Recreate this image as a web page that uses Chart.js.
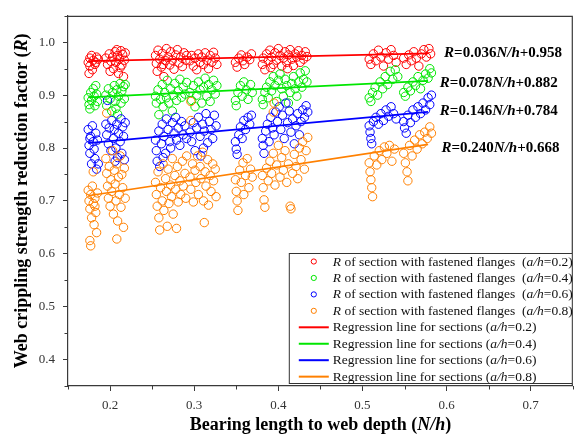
<!DOCTYPE html>
<html>
<head>
<meta charset="utf-8">
<script src="https://cdn.jsdelivr.net/npm/chart.js@4"></script>
<style>
  html, body { margin: 0; padding: 0; background: #fff; }
  canvas { display: block; }
</style>
</head>
<body>
<canvas id="chart" width="578" height="437"></canvas>
<script>
// Web crippling strength reduction factor R against bearing length ratio N/h,
// for sections with fastened flanges at four hole ratios a/h.

const ratios = ['0.2', '0.4', '0.6', '0.8'];

// [N/h, R] for a/h = 0.2
const pts02 = [
  [0.174,0.962],[0.176,0.970],[0.178,0.975],[0.180,0.966],[0.182,0.958],[0.184,0.972],[0.176,0.955],[0.179,0.948],[0.183,0.962],[0.186,0.968],[0.175,0.941],
  [0.195,0.970],[0.197,0.958],[0.199,0.978],[0.201,0.964],[0.203,0.972],[0.204,0.950],[0.206,0.982],[0.207,0.962],[0.209,0.975],[0.210,0.941],
  [0.211,0.968],[0.213,0.984],[0.214,0.957],[0.215,0.977],[0.216,0.935],[0.217,0.966],[0.218,0.980],[0.200,0.945],[0.212,0.952],[0.208,0.986],
  [0.254,0.975],[0.255,0.960],[0.256,0.945],[0.257,0.985],[0.259,0.968],[0.261,0.953],[0.262,0.979],[0.264,0.935],[0.266,0.965],[0.267,0.988],
  [0.269,0.972],[0.271,0.957],[0.272,0.982],[0.274,0.966],[0.276,0.949],[0.278,0.976],[0.280,0.986],[0.282,0.961],[0.284,0.972],[0.286,0.954],
  [0.288,0.980],[0.290,0.966],[0.291,0.975],[0.263,0.958],
  [0.295,0.965],[0.297,0.975],[0.299,0.955],[0.301,0.970],[0.303,0.948],[0.305,0.978],[0.307,0.962],[0.309,0.972],[0.311,0.958],[0.313,0.980],
  [0.315,0.966],[0.317,0.950],[0.319,0.975],[0.321,0.962],[0.323,0.981],[0.325,0.970],[0.327,0.958],
  [0.349,0.962],[0.351,0.953],[0.353,0.970],[0.356,0.976],[0.358,0.965],[0.360,0.958],[0.363,0.972],[0.366,0.967],[0.368,0.978],
  [0.381,0.958],[0.382,0.970],[0.384,0.948],[0.386,0.978],[0.388,0.965],[0.390,0.985],[0.392,0.972],[0.394,0.958],[0.396,0.980],[0.398,0.966],
  [0.400,0.988],[0.402,0.975],[0.404,0.955],[0.406,0.970],[0.408,0.982],[0.410,0.962],[0.412,0.976],[0.414,0.986],[0.416,0.968],[0.418,0.956],
  [0.420,0.978],[0.422,0.972],[0.424,0.984],[0.426,0.962],[0.428,0.975],[0.430,0.968],[0.432,0.982],[0.434,0.973],[0.391,0.952],[0.411,0.950],
  [0.508,0.968],[0.510,0.958],[0.513,0.978],[0.516,0.965],[0.519,0.985],[0.522,0.972],[0.525,0.955],[0.528,0.980],[0.531,0.968],[0.534,0.986],
  [0.537,0.975],[0.540,0.962],
  [0.549,0.970],[0.552,0.958],[0.555,0.976],[0.558,0.965],[0.561,0.982],[0.564,0.970],[0.567,0.955],[0.570,0.978],[0.573,0.986],[0.576,0.972],
  [0.579,0.988],[0.581,0.978]
];

// [N/h, R] for a/h = 0.4
const pts04 = [
  [0.174,0.895],[0.175,0.882],[0.176,0.874],[0.177,0.905],[0.178,0.890],[0.180,0.912],[0.181,0.898],[0.182,0.880],[0.183,0.918],[0.184,0.902],[0.185,0.888],
  [0.195,0.900],[0.196,0.880],[0.198,0.912],[0.200,0.893],[0.202,0.870],[0.203,0.905],[0.205,0.918],[0.206,0.888],[0.208,0.910],[0.209,0.864],
  [0.210,0.898],[0.212,0.922],[0.213,0.885],[0.214,0.908],[0.216,0.916],[0.217,0.893],[0.218,0.920],[0.207,0.875],
  [0.254,0.898],[0.255,0.885],[0.257,0.910],[0.258,0.863],[0.260,0.892],[0.262,0.920],[0.263,0.878],[0.265,0.905],[0.267,0.895],[0.268,0.928],
  [0.270,0.885],[0.272,0.912],[0.274,0.870],[0.275,0.900],[0.277,0.922],[0.279,0.890],[0.281,0.908],[0.283,0.930],[0.285,0.896],[0.287,0.915],
  [0.289,0.902],[0.291,0.924],
  [0.295,0.905],[0.297,0.890],[0.299,0.918],[0.301,0.878],[0.303,0.900],[0.305,0.925],[0.307,0.910],[0.309,0.885],[0.311,0.915],[0.313,0.932],
  [0.315,0.898],[0.317,0.920],[0.319,0.888],[0.321,0.910],[0.323,0.928],[0.325,0.902],[0.327,0.918],
  [0.349,0.890],[0.350,0.880],[0.352,0.905],[0.355,0.918],[0.357,0.898],[0.359,0.925],[0.362,0.910],[0.364,0.892],[0.367,0.920],[0.369,0.905],
  [0.381,0.892],[0.382,0.882],[0.384,0.905],[0.386,0.915],[0.388,0.895],[0.390,0.925],[0.392,0.908],[0.394,0.935],[0.396,0.918],[0.398,0.888],
  [0.400,0.928],[0.402,0.940],[0.404,0.912],[0.406,0.898],[0.408,0.930],[0.410,0.918],[0.412,0.885],[0.414,0.905],[0.416,0.922],[0.418,0.935],
  [0.420,0.912],[0.422,0.898],[0.424,0.925],[0.426,0.942],[0.428,0.915],[0.430,0.930],[0.432,0.946],[0.434,0.925],
  [0.508,0.895],[0.510,0.888],[0.512,0.905],[0.515,0.915],[0.518,0.900],[0.521,0.925],[0.524,0.912],[0.527,0.935],[0.530,0.920],[0.533,0.945],
  [0.536,0.930],[0.539,0.948],[0.542,0.935],
  [0.549,0.905],[0.551,0.898],[0.554,0.915],[0.557,0.908],[0.560,0.925],[0.563,0.918],[0.566,0.935],[0.569,0.912],[0.572,0.928],[0.575,0.940],
  [0.578,0.932],[0.580,0.950],[0.582,0.942]
];

// [N/h, R] for a/h = 0.6
const pts06 = [
  [0.174,0.835],[0.175,0.805],[0.176,0.790],[0.177,0.822],[0.178,0.770],[0.179,0.842],[0.180,0.812],[0.181,0.798],[0.182,0.780],[0.183,0.828],
  [0.184,0.760],[0.185,0.815],[0.186,0.770],[0.176,0.818],
  [0.195,0.845],[0.196,0.825],[0.198,0.808],[0.199,0.838],[0.201,0.795],[0.202,0.852],[0.204,0.818],[0.205,0.835],[0.207,0.800],[0.208,0.845],
  [0.209,0.782],[0.210,0.828],[0.212,0.812],[0.213,0.855],[0.214,0.790],[0.215,0.840],[0.216,0.822],[0.217,0.778],[0.218,0.848],[0.206,0.775],
  [0.197,0.890],
  [0.254,0.815],[0.255,0.795],[0.256,0.775],[0.258,0.832],[0.259,0.765],[0.261,0.808],[0.262,0.845],[0.264,0.822],[0.266,0.790],[0.267,0.855],
  [0.269,0.835],[0.271,0.812],[0.272,0.800],[0.274,0.848],[0.276,0.828],[0.278,0.858],[0.279,0.815],[0.281,0.838],[0.283,0.805],[0.285,0.850],
  [0.287,0.825],[0.289,0.842],[0.291,0.818],[0.263,0.782],
  [0.295,0.830],[0.297,0.812],[0.299,0.848],[0.301,0.795],[0.303,0.838],[0.305,0.858],[0.307,0.822],[0.308,0.785],[0.310,0.845],[0.312,0.832],
  [0.314,0.865],[0.316,0.810],[0.318,0.850],[0.320,0.835],[0.322,0.818],[0.324,0.862],[0.326,0.842],[0.311,0.800],
  [0.349,0.812],[0.350,0.798],[0.351,0.788],[0.353,0.825],[0.355,0.840],[0.357,0.818],[0.359,0.852],[0.361,0.835],[0.364,0.858],[0.366,0.845],
  [0.368,0.862],
  [0.381,0.818],[0.382,0.805],[0.383,0.790],[0.385,0.832],[0.387,0.845],[0.389,0.812],[0.391,0.858],[0.393,0.838],[0.395,0.825],[0.397,0.868],
  [0.399,0.850],[0.401,0.878],[0.403,0.835],[0.405,0.862],[0.407,0.818],[0.409,0.885],[0.411,0.848],[0.413,0.870],[0.415,0.830],[0.417,0.855],
  [0.419,0.808],[0.421,0.842],[0.423,0.865],[0.425,0.825],[0.427,0.850],[0.429,0.872],[0.431,0.858],[0.433,0.880],[0.435,0.868],
  [0.508,0.842],[0.509,0.830],[0.510,0.818],[0.511,0.808],[0.513,0.850],[0.516,0.858],[0.519,0.845],[0.522,0.865],[0.525,0.852],[0.528,0.872],
  [0.531,0.860],[0.534,0.878],[0.537,0.865],[0.540,0.855],
  [0.549,0.850],[0.550,0.838],[0.552,0.828],[0.554,0.862],[0.557,0.848],[0.560,0.872],[0.563,0.858],[0.566,0.878],[0.569,0.865],[0.572,0.885],
  [0.575,0.872],[0.578,0.895],[0.580,0.882],[0.582,0.900]
];

// [N/h, R] for a/h = 0.8
const pts08 = [
  [0.174,0.720],[0.175,0.700],[0.176,0.685],[0.177,0.712],[0.178,0.668],[0.179,0.728],[0.180,0.695],[0.181,0.655],[0.182,0.705],[0.183,0.678],
  [0.184,0.640],[0.185,0.715],[0.176,0.625],[0.177,0.615],[0.180,0.755],[0.182,0.690],
  [0.195,0.780],[0.196,0.752],[0.197,0.728],[0.198,0.705],[0.199,0.765],[0.200,0.690],[0.201,0.740],[0.202,0.718],[0.203,0.795],[0.204,0.675],
  [0.205,0.758],[0.206,0.732],[0.207,0.700],[0.208,0.770],[0.209,0.662],[0.210,0.745],[0.211,0.712],[0.212,0.785],[0.213,0.688],[0.214,0.750],
  [0.215,0.725],[0.216,0.650],[0.217,0.762],[0.218,0.705],[0.208,0.628],[0.196,0.866],
  [0.254,0.735],[0.255,0.712],[0.256,0.690],[0.257,0.755],[0.258,0.668],[0.259,0.645],[0.260,0.725],[0.262,0.700],[0.263,0.770],[0.264,0.682],
  [0.266,0.742],[0.267,0.718],[0.268,0.652],[0.269,0.760],[0.270,0.695],[0.272,0.730],[0.273,0.708],[0.274,0.780],[0.275,0.675],[0.277,0.748],
  [0.278,0.722],[0.280,0.765],[0.281,0.698],[0.283,0.738],[0.284,0.712],[0.286,0.775],[0.287,0.728],[0.289,0.752],[0.290,0.705],[0.291,0.785],
  [0.279,0.648],
  [0.295,0.745],[0.296,0.722],[0.298,0.770],[0.299,0.698],[0.301,0.758],[0.302,0.735],[0.304,0.785],[0.305,0.712],[0.307,0.765],[0.308,0.742],
  [0.310,0.792],[0.311,0.700],[0.313,0.755],[0.314,0.728],[0.316,0.778],[0.317,0.692],[0.319,0.748],[0.320,0.718],[0.322,0.770],[0.323,0.738],
  [0.325,0.760],[0.326,0.708],[0.312,0.659],[0.296,0.888],[0.296,0.852],
  [0.349,0.740],[0.350,0.718],[0.351,0.700],[0.352,0.682],[0.354,0.758],[0.356,0.735],[0.358,0.772],[0.359,0.712],[0.361,0.748],[0.363,0.780],
  [0.365,0.725],[0.367,0.760],[0.369,0.745],
  [0.381,0.748],[0.382,0.725],[0.383,0.702],[0.384,0.688],[0.386,0.762],[0.388,0.738],[0.390,0.775],[0.392,0.752],[0.394,0.790],[0.396,0.730],
  [0.398,0.768],[0.400,0.805],[0.402,0.745],[0.404,0.782],[0.406,0.758],[0.408,0.795],[0.410,0.735],[0.412,0.770],[0.414,0.690],[0.415,0.685],
  [0.417,0.752],[0.419,0.788],[0.421,0.765],[0.423,0.742],[0.425,0.800],[0.427,0.778],[0.429,0.812],[0.431,0.760],[0.433,0.795],[0.435,0.820],
  [0.395,0.885],[0.394,0.868],
  [0.508,0.772],[0.509,0.755],[0.510,0.740],[0.511,0.725],[0.512,0.708],[0.514,0.785],[0.517,0.768],[0.520,0.795],[0.523,0.778],[0.526,0.802],
  [0.529,0.790],[0.532,0.805],[0.535,0.775],[0.538,0.798],
  [0.549,0.790],[0.551,0.772],[0.553,0.755],[0.554,0.738],[0.556,0.805],[0.559,0.785],[0.562,0.815],[0.565,0.798],[0.568,0.825],[0.571,0.808],
  [0.574,0.830],[0.577,0.818],[0.580,0.840],[0.582,0.828]
];

// Regression R = slope * N/h + intercept, one per a/h
const slopes = [0.036, 0.078, 0.146, 0.240];
const intercepts = [0.958, 0.882, 0.784, 0.668];
const fitRange = [0.174, 0.578];

// Where each equation sits, in data units (left edge, vertical centre)
const eqX = [0.597, 0.592, 0.592, 0.594];
const eqY = [0.980, 0.922, 0.870, 0.800];

// Axis ticks
const xMajor = [0.2, 0.3, 0.4, 0.5, 0.6, 0.7];
const xMinor = [0.15, 0.25, 0.35, 0.45, 0.55, 0.65, 0.75];
const yMajor = [0.4, 0.5, 0.6, 0.7, 0.8, 0.9, 1.0];
const yMinor = [0.35, 0.45, 0.55, 0.65, 0.75, 0.85, 0.95, 1.05];

const colors = ['#ff0000', '#00e600', '#0000ff', '#ff8000'];
const SERIF = "'Liberation Serif', 'Times New Roman', serif";
const AXIS = '#3a3a3a';

Chart.defaults.font.family = SERIF;

const allPts = [pts02, pts04, pts06, pts08];
const datasets = [];
allPts.forEach((p, i) => {
  datasets.push({
    type: 'scatter',
    label: 'R a/h=' + ratios[i],
    data: p.map(([x, y]) => ({ x, y })),
    pointStyle: 'circle',
    pointRadius: 4.2,
    borderWidth: 1,
    borderColor: colors[i],
    backgroundColor: 'rgba(255,255,255,0)',
    order: 4 - i
  });
});
slopes.forEach((m, i) => {
  datasets.push({
    type: 'line',
    label: 'Fit a/h=' + ratios[i],
    data: fitRange.map(x => ({ x, y: m * x + intercepts[i] })),
    borderColor: colors[i],
    borderWidth: 1.7,
    pointRadius: 0,
    fill: false,
    order: 0
  });
});

// Draw a run of text pieces, some italic, some bold
function drawRich(ctx, parts, x, y, size, bold) {
  let cx = x;
  parts.forEach(p => {
    ctx.font = (p.i ? 'italic ' : '') + (bold ? 'bold ' : '') + size + 'px ' + SERIF;
    ctx.fillText(p.t, cx, y);
    cx += ctx.measureText(p.t).width;
  });
  return cx - x;
}
function richWidth(ctx, parts, size, bold) {
  let w = 0;
  parts.forEach(p => {
    ctx.font = (p.i ? 'italic ' : '') + (bold ? 'bold ' : '') + size + 'px ' + SERIF;
    w += ctx.measureText(p.t).width;
  });
  return w;
}

const decorations = {
  id: 'decorations',
  afterDraw(chart) {
    const ctx = chart.ctx;
    const ca = chart.chartArea;
    const xs = chart.scales.x, ys = chart.scales.y;
    ctx.save();

    // frame: top and right edges
    ctx.strokeStyle = AXIS;
    ctx.lineWidth = 1.2;
    ctx.beginPath();
    ctx.moveTo(ca.left, ca.top + 0.5);
    ctx.lineTo(ca.right, ca.top + 0.5);
    ctx.moveTo(ca.right - 0.5, ca.top);
    ctx.lineTo(ca.right - 0.5, ca.bottom);
    ctx.stroke();

    // minor ticks
    ctx.lineWidth = 1;
    ctx.beginPath();
    xMinor.forEach(v => {
      const px = Math.round(xs.getPixelForValue(v)) + 0.5;
      ctx.moveTo(px, ca.bottom);
      ctx.lineTo(px, ca.bottom + 3.5);
    });
    yMinor.forEach(v => {
      const py = Math.round(ys.getPixelForValue(v)) + 0.5;
      ctx.moveTo(ca.left, py);
      ctx.lineTo(ca.left - 3.5, py);
    });
    ctx.stroke();

    // regression equations
    ctx.fillStyle = '#000';
    ctx.textBaseline = 'middle';
    ctx.textAlign = 'left';
    slopes.forEach((m, i) => {
      const parts = [
        { t: 'R', i: 1 }, { t: '=' + m.toFixed(3) }, { t: 'N/h', i: 1 }, { t: '+' + intercepts[i].toFixed(3) }
      ];
      drawRich(ctx, parts, xs.getPixelForValue(eqX[i]), ys.getPixelForValue(eqY[i]), 15, true);
    });

    // legend box
    const boxR = ca.right, boxL = boxR - 284, boxB = ca.bottom - 2, boxT = boxB - 131;
    ctx.fillStyle = '#fff';
    ctx.fillRect(boxL, boxT, boxR - boxL, boxB - boxT);
    ctx.strokeStyle = '#333';
    ctx.lineWidth = 1;
    ctx.strokeRect(boxL + 0.5, boxT + 0.5, boxR - boxL - 1, boxB - boxT - 1);
    const rowH = 16.45, firstRow = boxT + 8.5;
    ratios.forEach((r, i) => {
      const y = firstRow + i * rowH;
      ctx.strokeStyle = colors[i];
      ctx.lineWidth = 1;
      ctx.beginPath();
      ctx.arc(boxL + 25, y, 2.6, 0, Math.PI * 2);
      ctx.stroke();
      ctx.fillStyle = '#111';
      drawRich(ctx, [{ t: 'R', i: 1 }, { t: ' of section with fastened flanges  (' }, { t: 'a/h', i: 1 }, { t: '=' + r + ')' }],
        boxL + 44, y + 0.5, 13.5, false);
    });
    ratios.forEach((r, i) => {
      const y = firstRow + (i + 4) * rowH;
      ctx.strokeStyle = colors[i];
      ctx.lineWidth = 2;
      ctx.beginPath();
      ctx.moveTo(boxL + 10, y);
      ctx.lineTo(boxL + 40, y);
      ctx.stroke();
      ctx.fillStyle = '#111';
      drawRich(ctx, [{ t: 'Regression line for sections (' }, { t: 'a/h', i: 1 }, { t: '=' + r + ')' }],
        boxL + 44, y + 0.5, 13.5, false);
    });

    // axis titles
    ctx.fillStyle = '#000';
    const xt = [{ t: 'Bearing length to web depth (' }, { t: 'N/h', i: 1 }, { t: ')' }];
    const xw = richWidth(ctx, xt, 18, true);
    drawRich(ctx, xt, (ca.left + ca.right) / 2 - xw / 2, 425, 18, true);

    const yt = [{ t: 'Web crippling strength reduction factor (' }, { t: 'R', i: 1 }, { t: ')' }];
    const yw = richWidth(ctx, yt, 18, true);
    ctx.translate(22, (ca.top + ca.bottom) / 2);
    ctx.rotate(-Math.PI / 2);
    drawRich(ctx, yt, -yw / 2, 0, 18, true);

    ctx.restore();
  }
};

new Chart(document.getElementById('chart'), {
  type: 'scatter',
  data: { datasets },
  options: {
    responsive: false,
    animation: false,
    events: [],
    devicePixelRatio: 1,
    layout: { padding: { left: 0, right: 1, top: 11, bottom: 0 } },
    plugins: { legend: { display: false }, tooltip: { enabled: false } },
    scales: {
      x: {
        type: 'linear',
        min: 0.15,
        max: 0.75,
        afterBuildTicks: s => { s.ticks = xMajor.map(v => ({ value: v })); },
        afterFit: s => { s.height = 51; },
        ticks: {
          padding: 7,
          color: '#333',
          font: { size: 13, family: SERIF },
          callback: v => Number(v).toFixed(1)
        },
        grid: { drawOnChartArea: false, drawTicks: true, tickLength: 5, tickColor: AXIS, tickWidth: 1 },
        border: { display: true, color: AXIS, width: 1.2 }
      },
      y: {
        type: 'linear',
        min: 0.35,
        max: 1.05,
        afterBuildTicks: s => { s.ticks = yMajor.map(v => ({ value: v })); },
        afterFit: s => { s.width = 68; },
        ticks: {
          padding: 8,
          color: '#333',
          font: { size: 13, family: SERIF },
          callback: v => Number(v).toFixed(1)
        },
        grid: { drawOnChartArea: false, drawTicks: true, tickLength: 5, tickColor: AXIS, tickWidth: 1 },
        border: { display: true, color: AXIS, width: 1.2 }
      }
    }
  },
  plugins: [decorations]
});
</script>
</body>
</html>
